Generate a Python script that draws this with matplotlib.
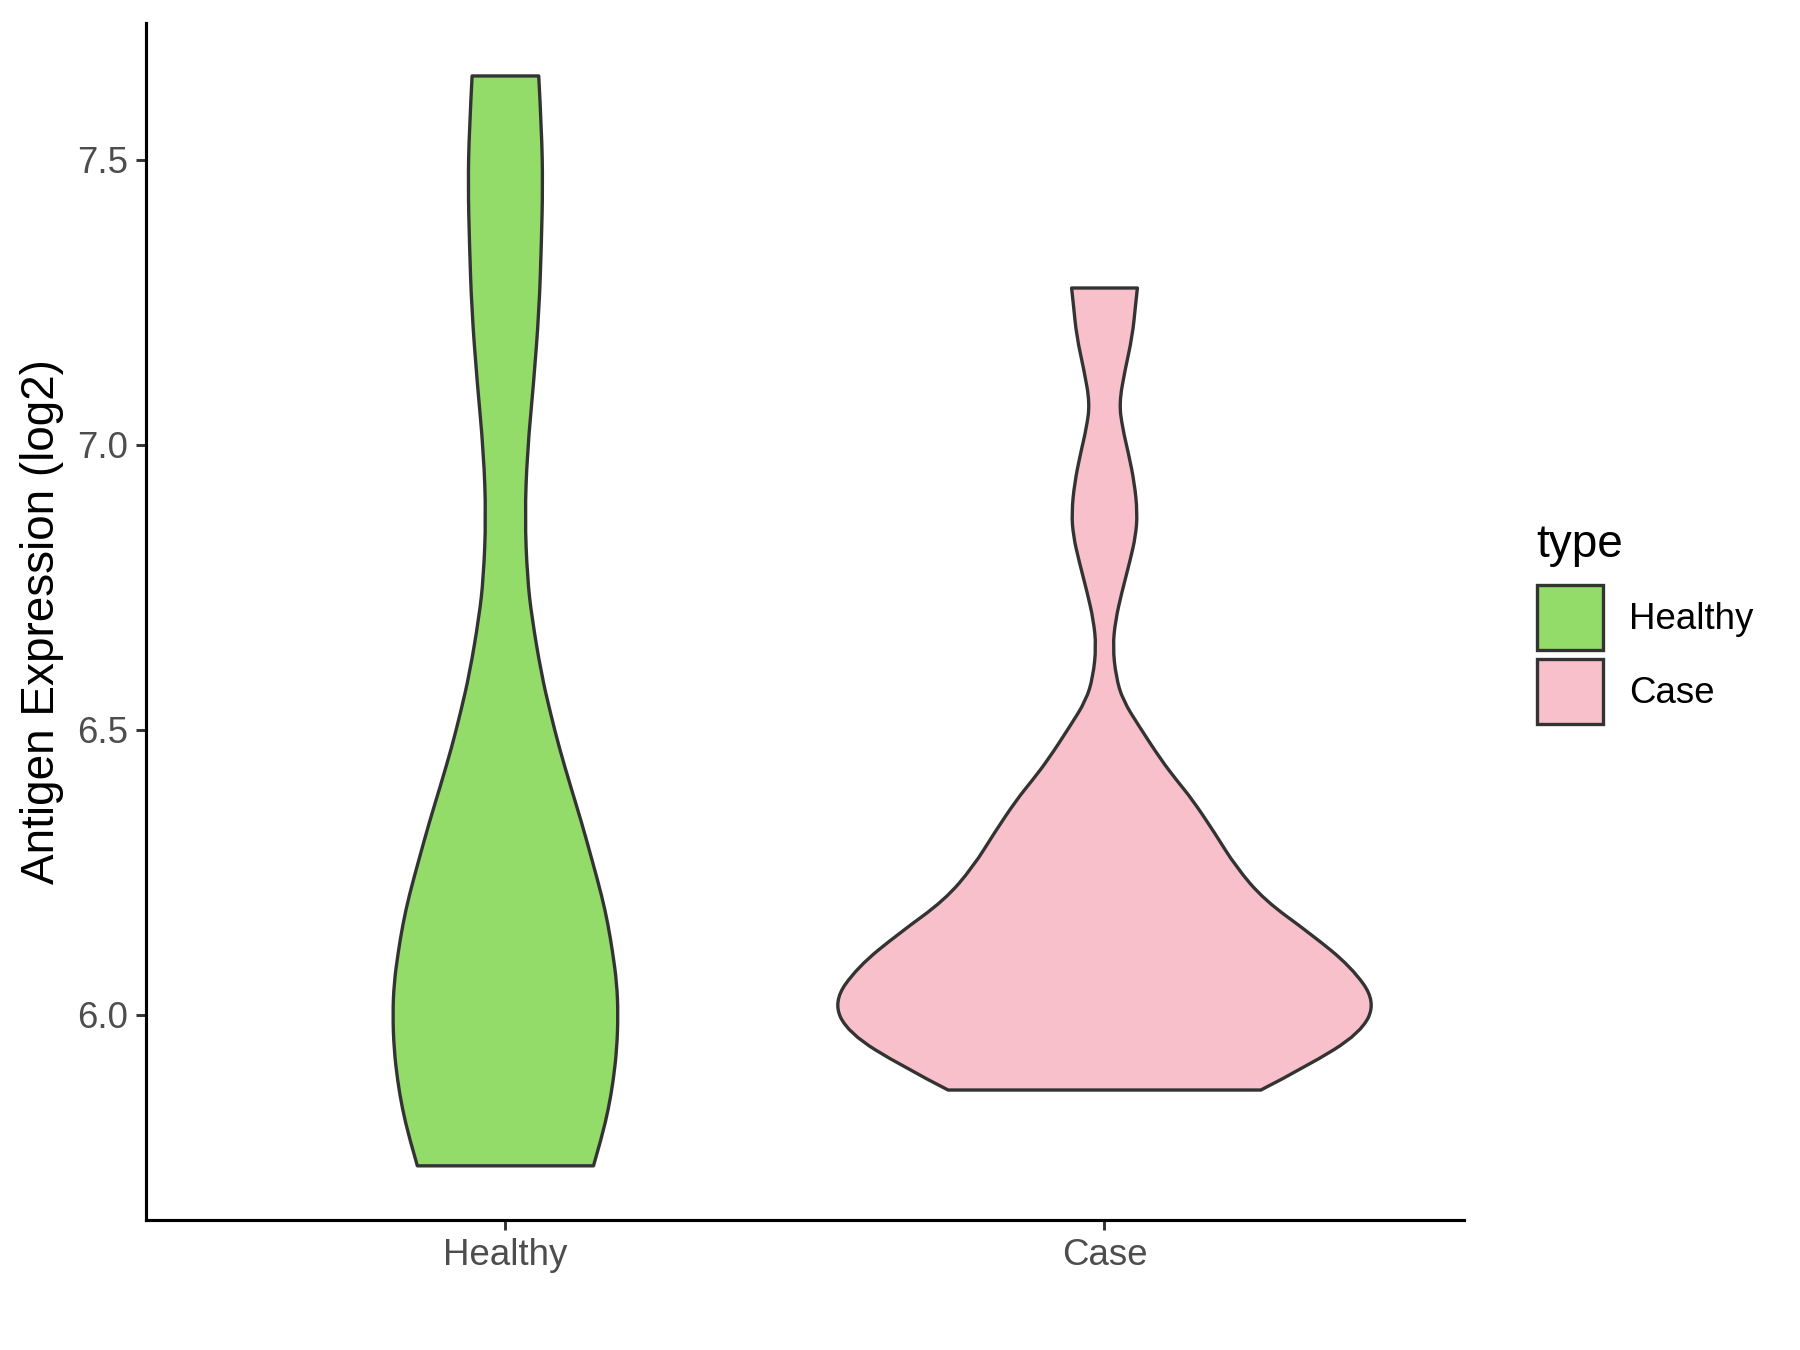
import matplotlib
matplotlib.use("Agg")
import matplotlib.pyplot as plt
from matplotlib.path import Path
from matplotlib.patches import PathPatch, Patch

plt.rcParams['font.family'] = ['Liberation Sans', 'DejaVu Sans']

# categories and colours
groups = ["Healthy", "Case"]
colors = ["#93DC6A", "#F8C0CB"]

# violin outlines: value (log2) and half-width (x units)
healthy_y = [5.735, 5.786, 5.835, 5.884, 5.940, 6.000, 6.055, 6.110, 6.160, 6.208,
             6.270, 6.338, 6.400, 6.468, 6.530, 6.598, 6.698, 6.766, 6.873, 6.986,
             7.111, 7.236, 7.350, 7.456, 7.550, 7.647]
healthy_w = [0.147, 0.161, 0.172, 0.180, 0.186, 0.188, 0.186, 0.179, 0.171, 0.161,
             0.145, 0.127, 0.109, 0.090, 0.075, 0.060, 0.044, 0.0367, 0.0325, 0.0364,
             0.0473, 0.0562, 0.060, 0.0623, 0.0605, 0.0556]

case_y = [5.868, 5.909, 5.968, 6.023, 6.084, 6.143, 6.201, 6.260, 6.319, 6.377,
          6.412, 6.447, 6.505, 6.552, 6.593, 6.646, 6.692, 6.739, 6.798, 6.840,
          6.880, 6.933, 6.985, 7.030, 7.073, 7.130, 7.190, 7.247, 7.275]
case_w = [0.261, 0.337, 0.428, 0.453, 0.412, 0.343, 0.267, 0.219, 0.184, 0.147,
          0.120, 0.0946, 0.0584, 0.0306, 0.0192, 0.0139, 0.0184, 0.0284, 0.043, 0.052,
          0.0549, 0.050, 0.040, 0.030, 0.0245, 0.034, 0.0465, 0.052, 0.0549]

profiles = [(healthy_y, healthy_w), (case_y, case_w)]


def smooth(pts):
    # quadratic bezier through midpoints, keeps both end points
    verts, codes = [], []
    for i in range(1, len(pts) - 1):
        if i == len(pts) - 2:
            end = pts[i + 1]
        else:
            end = ((pts[i][0] + pts[i + 1][0]) / 2, (pts[i][1] + pts[i + 1][1]) / 2)
        verts += [pts[i], end]
        codes += [Path.CURVE3, Path.CURVE3]
    return verts, codes


def violin_path(center, ys, ws):
    right = [(center + w, y) for y, w in zip(ys, ws)]
    left = [(center - w, y) for y, w in zip(ys[::-1], ws[::-1])]
    verts, codes = [right[0]], [Path.MOVETO]
    v, c = smooth(right)
    verts += v; codes += c
    verts.append(left[0]); codes.append(Path.LINETO)
    v, c = smooth(left)
    verts += v; codes += c
    verts.append(right[0]); codes.append(Path.CLOSEPOLY)
    return Path(verts, codes)


fig = plt.figure(figsize=(12, 9), dpi=150)
ax = fig.add_axes([0.0811, 0.0963, 0.8133 - 0.0811, 0.983 - 0.0963])

for i, (ys, ws) in enumerate(profiles):
    patch = PathPatch(violin_path(i + 1, ys, ws), facecolor=colors[i],
                      edgecolor="#333333", linewidth=1.6, joinstyle="round")
    ax.add_patch(patch)

ax.set_xlim(0.4, 2.6)
ax.set_ylim(5.64, 7.74)
ax.set_xticks([1, 2])
ax.set_xticklabels(groups)
ax.set_yticks([6.0, 6.5, 7.0, 7.5])
ax.set_yticklabels(["6.0", "6.5", "7.0", "7.5"])

for s in ["top", "right"]:
    ax.spines[s].set_visible(False)
for s in ["left", "bottom"]:
    ax.spines[s].set_linewidth(1.5)
    ax.spines[s].set_color("black")
ax.tick_params(axis="both", length=4.8, width=1.4, color="#333333",
               labelsize=17.6, labelcolor="#4D4D4D", pad=4)
ax.set_ylabel("Antigen Expression (log2)", fontsize=22, labelpad=6)

handles = [Patch(facecolor=colors[i], edgecolor="#333333", linewidth=1.6, label=g)
           for i, g in enumerate(groups)]
fig.text(1536 / 1800, 1 - 545 / 1350, "type", fontsize=22, va="center", ha="left")
ax.legend(handles=handles, loc="upper left", bbox_to_anchor=(1537 / 1800, 1 - 585 / 1350),
          bbox_transform=fig.transFigure, frameon=False, fontsize=17.6,
          handlelength=1.8, handleheight=2.36, handletextpad=0.72,
          labelspacing=0.23, borderpad=0, borderaxespad=0)

fig.savefig("out.png", dpi=150)
